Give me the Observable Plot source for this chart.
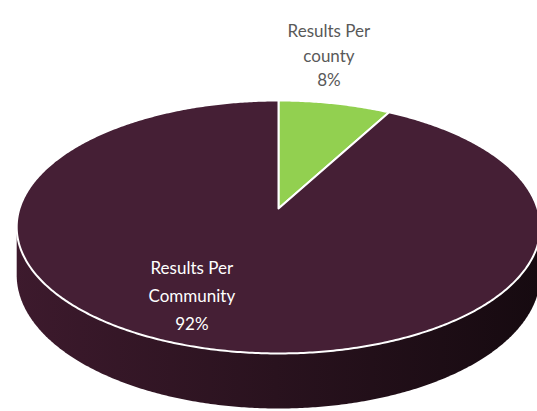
<!DOCTYPE html>
<html><head><meta charset="utf-8">
<script src="https://cdn.jsdelivr.net/npm/d3@7"></script>
<script src="https://cdn.jsdelivr.net/npm/@observablehq/plot@0.6"></script>
<style>html,body{margin:0;padding:0;background:#fff;overflow:hidden}</style>
</head><body><div id="chart"></div>
<script>
const categories = ["Results Per county", "Results Per Community"];
const values = [8, 92];
const labelTexts = ["Results Per\ncounty", "Results Per\nCommunity"];
const sliceColors = ["#92d050", "#451f35"];

const W = 537, H = 411;
const view = {cx: 278, cy: 208, rx: 259, rz: 123.8, k: 0.146, depth: 47};
function project(x, z, h = 0) {
  const w = 1 - view.k * z;
  return [view.cx + view.rx * x / w, view.cy + (view.rz * z + h * view.depth) / w];
}
const total = d3.sum(values);
const arcs = d3.pie().sort(null).value(d => d)(values);
const slicePts = [];
arcs.forEach((a, i) => {
  slicePts.push({cat: categories[i], x: view.cx, y: view.cy});
  const n = Math.max(4, Math.ceil((a.endAngle - a.startAngle) / 0.01));
  for (let j = 0; j <= n; j++) {
    const t = a.startAngle + (a.endAngle - a.startAngle) * j / n;
    const [x, y] = project(Math.sin(t), -Math.cos(t));
    slicePts.push({cat: categories[i], x, y});
  }
});
const rim = [];
for (let j = 0; j < 720; j++) {
  const t = j / 720 * 2 * Math.PI;
  rim.push(project(Math.sin(t), -Math.cos(t), 0), project(Math.sin(t), -Math.cos(t), 1));
}
const hull = d3.polygonHull(rim).map(([x, y]) => ({x, y}));

const labels = arcs.map((a, i) => {
  const m = (a.startAngle + a.endAngle) / 2;
  const r = i === 0 ? 1 : 0.5;
  const [x, y] = project(r * Math.sin(m), -r * Math.cos(m));
  return {cat: categories[i], x, y, text: labelTexts[i] + "\n" + Math.round(values[i] / total * 100) + "%"};
});

const chart = Plot.plot({
  width: W, height: H, margin: 0,
  x: {type: "identity", axis: null}, y: {type: "identity", axis: null},
  color: {domain: categories, range: sliceColors},
  style: {background: "#fff", fontFamily: "Lato, sans-serif"},
  marks: [
    Plot.line(hull, {x: "x", y: "y", curve: "linear-closed", fill: "url(#sideGrad)", stroke: "none"}),
    Plot.line(slicePts, {x: "x", y: "y", z: "cat", fill: "cat", stroke: "#fff", strokeWidth: 2, curve: "linear-closed", strokeLinejoin: "round"}),
    Plot.text(labels.filter((d, i) => i === 0), {x: "x", y: "y", text: "text", fill: "#595959", fontSize: 17, lineHeight: 1.45, lineAnchor: "bottom", dx: -6, dy: -17}),
    Plot.text(labels.filter((d, i) => i === 1), {x: "x", y: "y", text: "text", fill: "#fff", fontSize: 17, lineHeight: 1.65, lineAnchor: "middle", dx: -52, dy: 20})
  ]
});
const svg = d3.select(chart);
const grad = svg.insert("defs", ":first-child").append("linearGradient")
  .attr("id", "sideGrad").attr("gradientUnits", "userSpaceOnUse")
  .attr("x1", 13).attr("x2", 537).attr("y1", 0).attr("y2", 0);
grad.append("stop").attr("offset", 0).attr("stop-color", "#3d1a2d");
grad.append("stop").attr("offset", 0.5).attr("stop-color", "#29121e");
grad.append("stop").attr("offset", 1).attr("stop-color", "#160a10");
document.getElementById("chart").appendChild(chart);
</script>
</body></html>
